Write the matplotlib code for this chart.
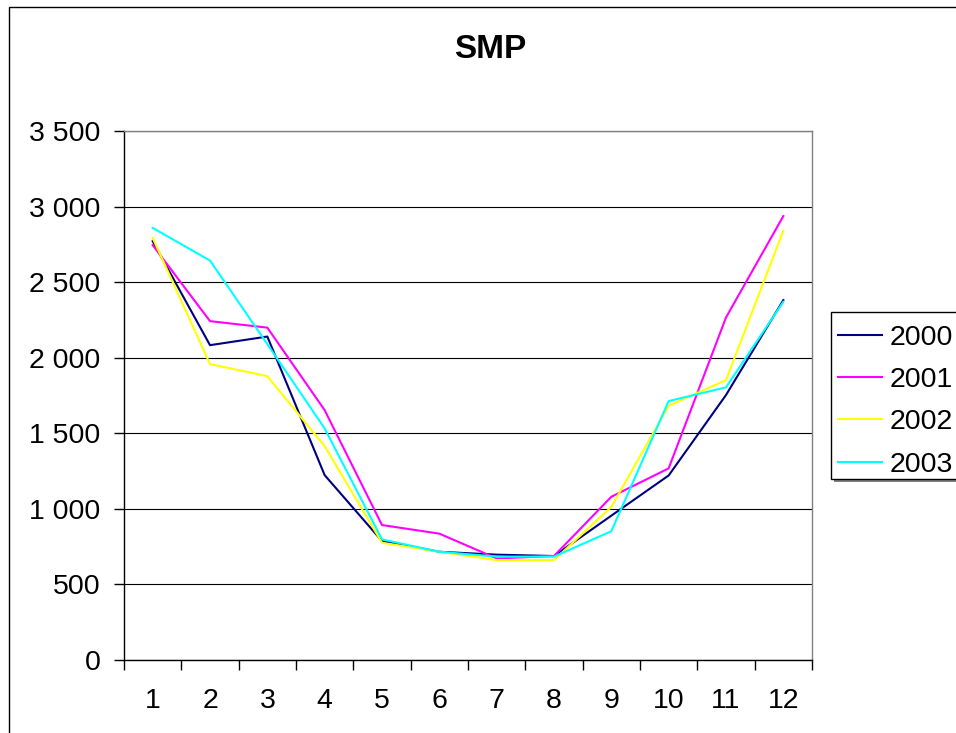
import matplotlib
matplotlib.use("Agg")
import matplotlib.pyplot as plt
from matplotlib.patches import Rectangle
from matplotlib.lines import Line2D
from matplotlib.ticker import FuncFormatter, FixedLocator

months = list(range(1, 13))
month_labels = [str(m) for m in months]
s2000 = [2771, 2083, 2140, 1223, 787, 716, 697, 688, 955, 1221, 1753, 2381]
s2001 = [2745, 2242, 2199, 1653, 893, 836, 672, 688, 1080, 1268, 2266, 2937]
s2002 = [2793, 1958, 1878, 1415, 776, 716, 661, 661, 1013, 1682, 1852, 2840]
s2003 = [2859, 2643, 2090, 1532, 798, 716, 684, 684, 852, 1713, 1804, 2370]
series_names = ["2000", "2001", "2002", "2003"]
colors = ["#000080", "#FF00FF", "#FFFF00", "#00FFFF"]
y_ticks = [0, 500, 1000, 1500, 2000, 2500, 3000, 3500]

plt.rcParams['font.family'] = ['Liberation Sans', 'DejaVu Sans']

W, H = 956, 733
fs = 20.5
fig = plt.figure(figsize=(W / 100, H / 100), dpi=100)
fig.patch.set_facecolor('white')

# outer chart frame (cut at right/bottom edges)
fig.patches.append(Rectangle((9 / W, -0.1), 1.2, 1 - 7 / H + 0.1,
                             transform=fig.transFigure, fill=False,
                             ec='black', lw=1.0))

left, right, top, bottom = 124, 812, 131, 660
ax = fig.add_axes([left / W, 1 - bottom / H, (right - left) / W, (bottom - top) / H])

for vals, name, c in zip([s2000, s2001, s2002, s2003], series_names, colors):
    ax.plot(months, vals, color=c, lw=1.5, label=name, zorder=3)

ax.set_xlim(0.5, 12.5)
ax.set_ylim(0, 3500)
ax.yaxis.set_major_locator(FixedLocator(y_ticks))
ax.yaxis.set_major_formatter(FuncFormatter(lambda v, p: f"{int(v):,}".replace(",", " ")))
ax.set_xticks(months)
ax.set_xticklabels(month_labels)
ax.set_xticks([m + 0.5 for m in range(0, 13)], minor=True)

ax.tick_params(axis='x', which='major', length=0, pad=20, labelsize=fs)
ax.tick_params(axis='x', which='minor', length=7, width=1, direction='out', color='black')
ax.tick_params(axis='y', which='major', length=7, width=1, direction='out', pad=10, labelsize=fs)

ax.grid(axis='y', color='black', lw=0.8)
ax.set_axisbelow(True)
for s in ['left', 'bottom']:
    ax.spines[s].set_color('black')
    ax.spines[s].set_linewidth(1.0)
for s in ['top', 'right']:
    ax.spines[s].set_color('#808080')
    ax.spines[s].set_linewidth(1.0)

fig.text(490 / W, 1 - 49 / H, "SMP", ha='center', va='center',
         fontsize=24, fontweight='bold')

# legend box (cut at right edge), with shadow at bottom
lx0, ly0, ly1 = 831, 312, 479
fig.patches.append(Rectangle(((lx0 + 3) / W, 1 - (ly1 + 3) / H), 0.5, (ly1 - ly0) / H,
                             transform=fig.transFigure, fc='#808080', ec='none', zorder=5))
fig.patches.append(Rectangle((lx0 / W, 1 - ly1 / H), 0.5, (ly1 - ly0) / H,
                             transform=fig.transFigure, fc='white', ec='black', lw=1.0, zorder=6))
handles = [Line2D([], [], color=c, lw=1.5) for c in colors]
leg = fig.legend(handles, series_names, loc='upper left',
                 bbox_to_anchor=(838 / W, 1 - 325 / H), frameon=False,
                 fontsize=fs, handlelength=1.55, handletextpad=0.25,
                 labelspacing=0.57, borderaxespad=0, borderpad=0)
leg.set_zorder(7)

fig.savefig("out.png", dpi=100, facecolor='white')
